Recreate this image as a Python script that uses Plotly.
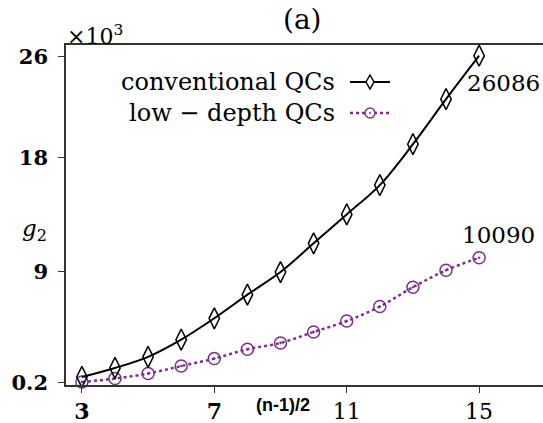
import plotly.graph_objects as go

x_vals = [3, 4, 5, 6, 7, 8, 9, 10, 11, 12, 13, 14, 15]
conventional = [0.66, 1.37, 2.25, 3.61, 5.30, 7.17, 8.96, 11.23, 13.52, 15.84, 19.08, 22.64, 26.086]
low_depth = [0.26, 0.53, 0.93, 1.52, 2.11, 2.85, 3.35, 4.22, 5.08, 6.23, 7.76, 9.10, 10.090]
x_ticks = [3, 7, 11, 15]
x_ticktext = ["<b>3</b>", "<b>7</b>", "11", "15"]
y_ticks = [0.2, 9, 18, 26]
y_ticktext = ["<b>0.2</b>", "<b>9</b>", "<b>18</b>", "<b>26</b>"]

BLACK = "#000000"
PURPLE = "#7B2F8A"
SERIF = "DejaVu Serif"

fig = go.Figure()
fig.add_trace(go.Scatter(
    x=x_vals, y=low_depth, mode="lines+markers", name="low − depth QCs",
    line=dict(color=PURPLE, width=2.5, dash="dot", shape="spline"),
    marker=dict(symbol="circle-open-dot", size=12, color=PURPLE, line=dict(width=1.5, color=PURPLE)),
    showlegend=False, cliponaxis=False,
))
fig.add_trace(go.Scatter(
    x=x_vals, y=conventional, mode="lines+markers", name="conventional QCs",
    line=dict(color=BLACK, width=2, shape="spline"),
    marker=dict(symbol="diamond-tall-open", size=15, color=BLACK, line=dict(width=1.5, color=BLACK)),
    showlegend=False, cliponaxis=False,
))

# end-value labels
fig.add_annotation(x=x_vals[-1], y=conventional[-1], text=f"{round(conventional[-1]*1000)}",
                   xref="x", yref="y", showarrow=False, xanchor="center", yanchor="middle",
                   xshift=24, yshift=-27, font=dict(family=SERIF, size=23, color=BLACK))
fig.add_annotation(x=x_vals[-1], y=low_depth[-1], text=f"{round(low_depth[-1]*1000)}",
                   xref="x", yref="y", showarrow=False, xanchor="center", yanchor="middle",
                   xshift=19, yshift=23, font=dict(family=SERIF, size=23, color=BLACK))

# manual legend (text left, glyph right)
W, H = 543, 423
L, R, T, B = 66, 0, 45, 38
pw, ph = W - L - R, H - T - B
def px(xp):
    return (xp - L) / pw
def py(yp):
    return 1 - (yp - T) / ph

legend_rows = [("conventional QCs", 82, BLACK, "solid"), ("low − depth QCs", 113, PURPLE, "dot")]
for text, yp, col, dash in legend_rows:
    fig.add_annotation(x=px(337), y=py(yp), xref="paper", yref="paper", text=text,
                       showarrow=False, xanchor="right", yanchor="middle",
                       font=dict(family=SERIF, size=24, color=BLACK))
    fig.add_shape(type="line", xref="paper", yref="paper",
                  x0=px(350), x1=px(390), y0=py(yp), y1=py(yp),
                  line=dict(color=col, width=2.5 if dash == "dot" else 2, dash=dash))
# legend glyphs
fig.add_shape(type="path", xref="paper", yref="paper",
              path=f"M {px(370)} {py(75)} L {px(374)} {py(82)} L {px(370)} {py(89)} L {px(366)} {py(82)} Z",
              fillcolor="white", line=dict(color=BLACK, width=1.5))
fig.add_shape(type="circle", xref="paper", yref="paper",
              x0=px(365), x1=px(375), y0=py(118), y1=py(108),
              fillcolor="white", line=dict(color=PURPLE, width=1.5))
fig.add_shape(type="circle", xref="paper", yref="paper",
              x0=px(369), x1=px(371), y0=py(114), y1=py(112),
              fillcolor=PURPLE, line=dict(color=PURPLE, width=0))

# title, multiplier, axis labels
fig.add_annotation(x=px(302), y=py(19), xref="paper", yref="paper", text="(a)", showarrow=False,
                   xanchor="center", yanchor="middle", font=dict(family=SERIF, size=28, color=BLACK))
fig.add_annotation(x=px(65), y=py(35), xref="paper", yref="paper", text="×10<sup>3</sup>", showarrow=False,
                   xanchor="left", yanchor="middle", font=dict(family=SERIF, size=22, color=BLACK))
fig.add_annotation(x=px(34), y=py(230), xref="paper", yref="paper", text="<i>g</i><sub>2</sub>", showarrow=False,
                   xanchor="center", yanchor="middle", font=dict(family=SERIF, size=23, color=BLACK))
fig.add_annotation(x=px(283), y=py(405), xref="paper", yref="paper", text="<b>(n-1)/2</b>", showarrow=False,
                   xanchor="center", yanchor="middle", font=dict(family="Liberation Sans", size=18, color=BLACK))

fig.update_layout(
    width=W, height=H,
    margin=dict(l=L, r=R, t=T, b=B, pad=0),
    paper_bgcolor="white", plot_bgcolor="white",
    font=dict(family=SERIF, size=22, color=BLACK),
    showlegend=False,
)
fig.update_xaxes(
    range=[2.52, 16.93], tickvals=x_ticks, ticktext=x_ticktext,
    showgrid=False, zeroline=False, showline=True, linecolor="#333333", linewidth=1.5,
    mirror=True, ticks="outside", ticklen=6, tickwidth=1, tickcolor="#333333",
    tickfont=dict(family=SERIF, size=22, color=BLACK),
)
fig.update_yaxes(
    range=[0.02, 26.93], tickvals=y_ticks, ticktext=y_ticktext,
    showgrid=False, zeroline=False, showline=True, linecolor="#333333", linewidth=1.5,
    ticks="outside", ticklen=6, tickwidth=1, tickcolor="#333333", ticklabelstandoff=6,
    tickfont=dict(family=SERIF, size=21, color=BLACK),
)

fig.write_html("out.html", config={"displayModeBar": False},
               post_script="document.body.style.margin='0px';document.body.style.overflow='hidden';")
